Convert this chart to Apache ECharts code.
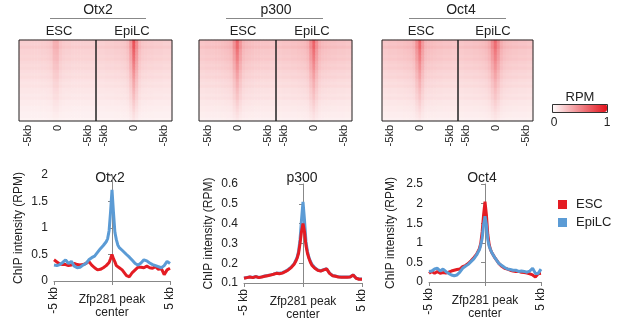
<!DOCTYPE html>
<html>
<head>
<meta charset="utf-8">
<script src="https://cdn.jsdelivr.net/npm/echarts@6/dist/echarts.min.js"></script>
<style>
  html, body { margin: 0; padding: 0; background: #fff; }
  #chart { width: 617px; height: 326px; }
</style>
</head>
<body>
<div id="chart"></div>
<script>
// positions along the peak window (kb), denser near the centre
const kb = [-5, -4.75, -4.5, -4.25, -4, -3.75, -3.5, -3.25, -3, -2.75, -2.5, -2.25, -2, -1.75, -1.5, -1.25, -1,
  -0.875, -0.75, -0.625, -0.5, -0.375, -0.25, -0.125, 0, 0.125, 0.25, 0.375, 0.5, 0.625, 0.75, 0.875,
  1, 1.25, 1.5, 1.75, 2, 2.25, 2.5, 2.75, 3, 3.25, 3.5, 3.75, 4, 4.25, 4.5, 4.75, 5];

// average profiles (RPM)
const otx2Esc = [0.40, 0.36, 0.32, 0.31, 0.31, 0.29, 0.30, 0.33, 0.31, 0.30, 0.31, 0.33, 0.37, 0.30, 0.25, 0.21, 0.22,
  0.23, 0.25, 0.27, 0.29, 0.32, 0.35, 0.42, 0.50, 0.42, 0.36, 0.29, 0.27, 0.25, 0.24, 0.21,
  0.18, 0.10, 0.08, 0.16, 0.21, 0.26, 0.26, 0.25, 0.28, 0.25, 0.24, 0.27, 0.22, 0.24, 0.12, 0.21, 0.24];
const otx2Epi = [0.30, 0.29, 0.31, 0.35, 0.40, 0.33, 0.37, 0.28, 0.25, 0.26, 0.30, 0.33, 0.40, 0.44, 0.47, 0.54, 0.61,
  0.64, 0.67, 0.70, 0.74, 0.80, 0.95, 1.30, 1.72, 1.30, 0.92, 0.78, 0.68, 0.63, 0.61, 0.58,
  0.57, 0.50, 0.45, 0.39, 0.33, 0.30, 0.34, 0.40, 0.38, 0.34, 0.31, 0.29, 0.27, 0.25, 0.29, 0.37, 0.33];
const p300Esc = [0.124, 0.127, 0.130, 0.127, 0.132, 0.127, 0.130, 0.134, 0.137, 0.140, 0.144, 0.149, 0.147, 0.150, 0.157, 0.166, 0.178,
  0.183, 0.195, 0.208, 0.225, 0.250, 0.300, 0.360, 0.400, 0.360, 0.290, 0.250, 0.225, 0.205, 0.190, 0.183,
  0.174, 0.164, 0.160, 0.166, 0.171, 0.149, 0.137, 0.134, 0.130, 0.129, 0.129, 0.129, 0.130, 0.140, 0.124, 0.119, 0.119];
const p300Epi = [0.125, 0.128, 0.131, 0.128, 0.133, 0.128, 0.131, 0.135, 0.138, 0.141, 0.145, 0.150, 0.149, 0.152, 0.159, 0.168, 0.180,
  0.186, 0.198, 0.212, 0.230, 0.260, 0.320, 0.420, 0.510, 0.420, 0.310, 0.260, 0.230, 0.210, 0.195, 0.186,
  0.177, 0.166, 0.162, 0.167, 0.172, 0.150, 0.138, 0.135, 0.131, 0.130, 0.130, 0.130, 0.131, 0.141, 0.125, 0.120, 0.120];
const oct4Esc = [0.22, 0.27, 0.22, 0.27, 0.22, 0.24, 0.23, 0.25, 0.28, 0.30, 0.32, 0.33, 0.39, 0.42, 0.47, 0.54, 0.62,
  0.66, 0.71, 0.78, 0.85, 0.99, 1.29, 1.72, 2.05, 1.72, 1.21, 0.95, 0.82, 0.74, 0.68, 0.62,
  0.57, 0.47, 0.40, 0.35, 0.33, 0.30, 0.28, 0.27, 0.27, 0.25, 0.24, 0.23, 0.21, 0.18, 0.13, 0.21, 0.22];
const oct4Epi = [0.27, 0.28, 0.33, 0.35, 0.28, 0.33, 0.27, 0.22, 0.18, 0.16, 0.18, 0.25, 0.35, 0.40, 0.45, 0.52, 0.59,
  0.64, 0.69, 0.76, 0.82, 0.95, 1.12, 1.46, 1.68, 1.46, 1.08, 0.91, 0.82, 0.74, 0.68, 0.62,
  0.57, 0.47, 0.42, 0.37, 0.33, 0.32, 0.30, 0.30, 0.27, 0.28, 0.27, 0.25, 0.28, 0.35, 0.22, 0.22, 0.33];

// heatmap: background level per row (top = strongest peaks), stripe fade per row, stripe per column
const rowBg = [0.20, 0.19, 0.21, 0.18, 0.18, 0.17, 0.18, 0.16, 0.15, 0.16, 0.14, 0.13, 0.14, 0.12,
  0.11, 0.12, 0.10, 0.10, 0.09, 0.10, 0.08, 0.08, 0.07, 0.07, 0.06, 0.06, 0.05];
const rowFade = [1.00, 0.95, 0.92, 0.88, 0.84, 0.80, 0.76, 0.72, 0.68, 0.64, 0.60, 0.56, 0.52, 0.48,
  0.45, 0.42, 0.39, 0.36, 0.33, 0.30, 0.27, 0.24, 0.21, 0.18, 0.15, 0.12, 0.10];
const hmOtx2Esc = [0.01, 0.01, 0.01, 0.01, 0.01, 0.01, 0.01, 0.02, 0.02, 0.03, 0.05, 0.14, 0.15, 0.06, 0.03, 0.02, 0.02, 0.01, 0.01, 0.01, 0.01, 0.01, 0.01, 0.01, 0.01];
const hmOtx2Epi = [0.01, 0.01, 0.01, 0.02, 0.02, 0.02, 0.03, 0.03, 0.04, 0.05, 0.09, 0.25, 0.55, 0.30, 0.10, 0.05, 0.04, 0.03, 0.03, 0.02, 0.02, 0.02, 0.01, 0.01, 0.01];
const hmP300Esc = [0.01, 0.01, 0.02, 0.02, 0.02, 0.03, 0.03, 0.04, 0.05, 0.06, 0.09, 0.24, 0.42, 0.22, 0.09, 0.06, 0.05, 0.04, 0.03, 0.03, 0.02, 0.02, 0.02, 0.01, 0.01];
const hmP300Epi = [0.01, 0.01, 0.02, 0.02, 0.02, 0.03, 0.03, 0.04, 0.05, 0.06, 0.10, 0.26, 0.44, 0.24, 0.10, 0.06, 0.05, 0.04, 0.03, 0.03, 0.02, 0.02, 0.02, 0.01, 0.01];
const hmOct4Esc = [0.01, 0.01, 0.02, 0.02, 0.02, 0.03, 0.03, 0.04, 0.05, 0.06, 0.10, 0.25, 0.42, 0.20, 0.08, 0.06, 0.05, 0.04, 0.03, 0.03, 0.02, 0.02, 0.02, 0.01, 0.01];
const hmOct4Epi = [0.01, 0.01, 0.02, 0.02, 0.02, 0.03, 0.03, 0.04, 0.05, 0.07, 0.12, 0.26, 0.40, 0.26, 0.12, 0.07, 0.05, 0.04, 0.03, 0.03, 0.02, 0.02, 0.02, 0.01, 0.01];

const RED = '#e41c23';
const BLUE = '#5b9bd5';
const FONT = '"Liberation Sans", Arial, sans-serif';

function heatCells(profile, bgScale) {
  const cells = [];
  rowBg.forEach((bg, r) => {
    profile.forEach((s, c) => {
      cells.push([c, r, Math.min(1, bg * bgScale + s * rowFade[r])]);
    });
  });
  return cells;
}

const chart = echarts.init(document.getElementById('chart'));

// heatmap panels
const panels = [
  { left: 19, width: 77, prof: hmOtx2Esc, bg: 1.0 },
  { left: 96, width: 76, prof: hmOtx2Epi, bg: 1.0 },
  { left: 199, width: 77, prof: hmP300Esc, bg: 1.2 },
  { left: 276, width: 76, prof: hmP300Epi, bg: 1.2 },
  { left: 382, width: 76, prof: hmOct4Esc, bg: 1.2 },
  { left: 458, width: 75, prof: hmOct4Epi, bg: 1.2 }
];

// line panels
const lines = [
  { left: 54, top: 175, width: 116, height: 106, max: 2, min: 0, step: 0.5, nameGap: 29,
    series: [{ name: 'ESC', data: otx2Esc, color: RED }, { name: 'EpiLC', data: otx2Epi, color: BLUE }] },
  { left: 244, top: 184, width: 118, height: 99, max: 0.6, min: 0.1, step: 0.1, nameGap: 29,
    series: [{ name: 'EpiLC', data: p300Epi, color: BLUE }, { name: 'ESC', data: p300Esc, color: RED }] },
  { left: 429, top: 184, width: 112, height: 98, max: 2.5, min: 0, step: 0.5, nameGap: 32,
    series: [{ name: 'ESC', data: oct4Esc, color: RED }, { name: 'EpiLC', data: oct4Epi, color: BLUE }] }
];

const grid = [], xAxis = [], yAxis = [], series = [];

panels.forEach((p, i) => {
  grid.push({ left: p.left, top: 40, width: p.width, height: 81, show: true, outerBoundsMode: 'none',
    borderColor: '#222', borderWidth: 1, backgroundColor: 'transparent', z: 3 });
  xAxis.push({ type: 'category', gridIndex: i, data: p.prof.map((_, c) => c), show: false });
  xAxis.push({
    type: 'value', gridIndex: i, position: 'bottom', min: -5, max: 5,
    axisLine: { show: false }, axisTick: { show: false }, splitLine: { show: false },
    axisLabel: {
      rotate: 90, margin: 4, fontSize: 11, color: '#222', fontFamily: FONT,
      customValues: [-3.9, 0, 4],
      formatter: v => (v === 0 ? '0' : '-5kb')
    }
  });
  yAxis.push({ type: 'category', gridIndex: i, data: rowBg.map((_, r) => r), inverse: true, show: false });
  series.push({
    type: 'heatmap', name: 'hm' + i, xAxisIndex: 2 * i, yAxisIndex: i,
    data: heatCells(p.prof, p.bg), silent: true, itemStyle: { borderWidth: 0 }
  });
});

lines.forEach((l, j) => {
  const g = panels.length + j;
  grid.push({ left: l.left, top: l.top, width: l.width, height: l.height, outerBoundsMode: 'none' });
  const xi = xAxis.length;
  xAxis.push({
    type: 'value', gridIndex: g, min: -5, max: 5, interval: 5,
    axisLine: { lineStyle: { color: '#888' } },
    axisTick: { length: 4, lineStyle: { color: '#888' } },
    splitLine: { show: false },
    axisLabel: {
      rotate: 90, margin: 6, fontSize: 12, color: '#222', fontFamily: FONT,
      formatter: v => (v === -5 ? '-5 kb' : v === 5 ? '5 kb' : '')
    },
    name: 'Zfp281 peak\ncenter', nameLocation: 'middle', nameGap: 12, nameMoveOverlap: false,
    nameTextStyle: { fontSize: 12, lineHeight: 13, color: '#222', fontFamily: FONT }
  });
  yAxis.push({
    type: 'value', gridIndex: g, min: l.min, max: l.max, interval: l.step,
    axisLine: { show: true, lineStyle: { color: '#888' } },
    axisTick: { show: true, length: 4, lineStyle: { color: '#888' } },
    splitLine: { show: false },
    axisLabel: { fontSize: 12, color: '#222', margin: 6, fontFamily: FONT,
      formatter: v => String(+v.toFixed(1)) },
    name: 'ChIP intensity (RPM)', nameLocation: 'middle', nameGap: l.nameGap, nameRotate: 90,
    nameMoveOverlap: false,
    nameTextStyle: { fontSize: 12, color: '#222', fontFamily: FONT }
  });
  l.series.forEach(s => {
    series.push({
      type: 'line', name: s.name, xAxisIndex: xi, yAxisIndex: yAxis.length - 1,
      data: s.data.map((v, k) => [kb[k], v]),
      showSymbol: false, symbol: 'none', color: s.color,
      lineStyle: { width: 3, color: s.color }, silent: true
    });
  });
});

// group headers above the heatmaps
const heads = [
  { text: 'Otx2', x: 98, x1: 50, x2: 146, esc: 59, epi: 132 },
  { text: 'p300', x: 276, x1: 226, x2: 323, esc: 243, epi: 312 },
  { text: 'Oct4', x: 461, x1: 409, x2: 506, esc: 421, epi: 493 }
];
const graphic = [];
heads.forEach(h => {
  graphic.push({ type: 'text', x: h.x, y: 10, style: { text: h.text, align: 'center', verticalAlign: 'middle', font: '14px ' + FONT, fill: '#222' } });
  graphic.push({ type: 'line', shape: { x1: h.x1, y1: 18.5, x2: h.x2, y2: 18.5 }, style: { stroke: '#888', lineWidth: 1 } });
  graphic.push({ type: 'text', x: h.esc, y: 31, style: { text: 'ESC', align: 'center', verticalAlign: 'middle', font: '13px ' + FONT, fill: '#222' } });
  graphic.push({ type: 'text', x: h.epi, y: 31, style: { text: 'EpiLC', align: 'center', verticalAlign: 'middle', font: '13px ' + FONT, fill: '#222' } });
});
// line chart titles
[['Otx2', 110], ['p300', 302], ['Oct4', 482]].forEach(t => {
  graphic.push({ type: 'text', x: t[1], y: 178, style: { text: t[0], align: 'center', verticalAlign: 'middle', font: '14px ' + FONT, fill: '#222' } });
});
// colour bar frame and labels
graphic.push({ type: 'rect', shape: { x: 552.5, y: 104.5, width: 55, height: 8 }, style: { fill: 'none', stroke: '#333', lineWidth: 1 }, z: 10 });
graphic.push({ type: 'text', x: 580, y: 97, style: { text: 'RPM', align: 'center', verticalAlign: 'middle', font: '13px ' + FONT, fill: '#222' } });
graphic.push({ type: 'text', x: 554, y: 123, style: { text: '0', align: 'center', verticalAlign: 'middle', font: '12px ' + FONT, fill: '#222' } });
graphic.push({ type: 'text', x: 607, y: 123, style: { text: '1', align: 'center', verticalAlign: 'middle', font: '12px ' + FONT, fill: '#222' } });

chart.setOption({
  animation: false,
  textStyle: { fontFamily: FONT },
  grid, xAxis, yAxis, series, graphic,
  visualMap: {
    type: 'continuous', min: 0, max: 1, seriesIndex: [0, 1, 2, 3, 4, 5],
    orient: 'horizontal', left: 552, top: 104, itemWidth: 8, itemHeight: 55,
    padding: 0, calculable: false, text: null, showLabel: false,
    inRange: { color: ['#ffffff', '#e3121b'] }
  },
  legend: {
    data: ['ESC', 'EpiLC'], orient: 'vertical', left: 553, top: 193,
    icon: 'rect', itemWidth: 9, itemHeight: 9, itemGap: 5,
    textStyle: { fontSize: 13, color: '#222', padding: [0, 0, 0, 4], fontFamily: FONT }
  }
});
</script>
</body>
</html>
